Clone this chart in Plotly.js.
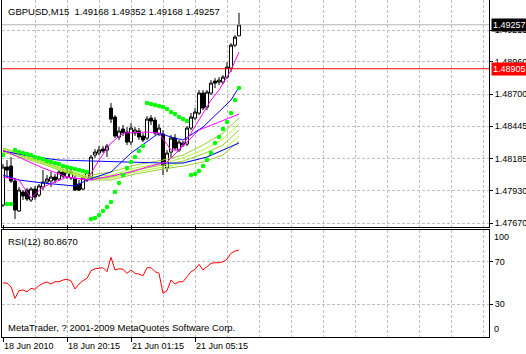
<!DOCTYPE html>
<html><head><meta charset="utf-8">
<script src="https://cdn.plot.ly/plotly-3.0.1.min.js"></script>
<style>html,body{margin:0;padding:0;background:#fff;}#chart{width:526px;height:354px;}</style>
</head><body><div id="chart"></div>
<script>
const symbol = 'GBPUSD';
const timeframe = 'M15';
const barIndex = [0,1,2,3,4,5,6,7,8,9,10,11,12,13,14,15,16,17,18,19,20,21,22,23,24,25,26,27,28,29,30,31,32,33,34,35,36,37,38,39,40,41,42,43,44,45,46,47,48,49,50,51,52,53,54,55,56,57,58,59];
const openP  = [1.47814,1.48118,1.48126,1.48006,1.47766,1.47918,1.47934,1.47854,1.47942,1.47894,1.47958,1.47998,1.48006,1.48038,1.48022,1.48078,1.48038,1.48030,1.48022,1.47982,1.47942,1.48014,1.48038,1.48214,1.48230,1.48262,1.48254,1.48590,1.48518,1.48358,1.48422,1.48398,1.48318,1.48390,1.48406,1.48366,1.48350,1.48510,1.48494,1.48382,1.48382,1.48110,1.48238,1.48350,1.48254,1.48310,1.48302,1.48430,1.48510,1.48550,1.48710,1.48598,1.48710,1.48806,1.48798,1.48798,1.48838,1.48910,1.49094,1.49168];
const highP  = [1.48142,1.48174,1.48198,1.48030,1.47958,1.47934,1.47950,1.47958,1.47966,1.47982,1.48094,1.48054,1.48078,1.48062,1.48094,1.48102,1.48118,1.48110,1.48046,1.48014,1.48046,1.48094,1.48214,1.48262,1.48286,1.48286,1.48302,1.48630,1.48534,1.48438,1.48454,1.48438,1.48470,1.48438,1.48430,1.48390,1.48526,1.48534,1.48518,1.48462,1.48414,1.48254,1.48374,1.48382,1.48334,1.48326,1.48446,1.48550,1.48590,1.48734,1.48734,1.48734,1.48814,1.48830,1.48838,1.48854,1.48958,1.49110,1.49174,1.49352];
const lowP   = [1.47798,1.48030,1.47990,1.47702,1.47758,1.47854,1.47846,1.47838,1.47854,1.47878,1.47934,1.47982,1.47958,1.47990,1.48006,1.48030,1.48022,1.48014,1.47926,1.47926,1.47934,1.47998,1.48014,1.48190,1.48214,1.48230,1.48198,1.48470,1.48350,1.48334,1.48366,1.48294,1.48294,1.48366,1.48334,1.48318,1.48334,1.48454,1.48374,1.48366,1.48054,1.48078,1.48190,1.48254,1.48238,1.48278,1.48286,1.48414,1.48494,1.48534,1.48574,1.48574,1.48694,1.48750,1.48774,1.48782,1.48822,1.48878,1.49078,1.49168];
const closeP = [1.48118,1.48094,1.48006,1.47774,1.47934,1.47886,1.47862,1.47942,1.47878,1.47966,1.47998,1.48022,1.48038,1.48014,1.48078,1.48046,1.48078,1.48078,1.47934,1.47934,1.48030,1.48078,1.48198,1.48238,1.48254,1.48246,1.48286,1.48502,1.48366,1.48406,1.48390,1.48318,1.48430,1.48414,1.48358,1.48334,1.48502,1.48486,1.48390,1.48430,1.48134,1.48230,1.48350,1.48270,1.48318,1.48294,1.48430,1.48518,1.48558,1.48710,1.48590,1.48718,1.48790,1.48790,1.48814,1.48838,1.48918,1.49094,1.49158,1.49257];

// Parabolic SAR (one dot per bar)
const sarP = [1.48214,1.47822,1.47822,1.48254,1.48238,1.48230,1.48222,1.48214,1.48198,1.48190,1.48182,1.48166,1.48158,1.48150,1.48142,1.48126,1.48118,1.48110,1.48102,1.48094,1.48086,1.48078,1.47702,1.47710,1.47734,1.47766,1.47798,1.47838,1.47918,1.47990,1.48054,1.48110,1.48158,1.48198,1.48246,1.48286,1.48630,1.48622,1.48614,1.48606,1.48598,1.48582,1.48558,1.48542,1.48518,1.48502,1.48486,1.48054,1.48062,1.48086,1.48126,1.48174,1.48230,1.48310,1.48358,1.48422,1.48478,1.48550,1.48654,1.48750];

// Moving averages (bar index, price)
const maFastIdx = [0,4,7,10,16,21,24,27,30,36,39,42,44,47,52,54,57,59];
const maFastVal = [1.48038,1.48014,1.47870,1.47958,1.48038,1.48014,1.48174,1.48310,1.48390,1.48398,1.48390,1.48254,1.48254,1.48390,1.48654,1.48734,1.48894,1.49038];
const maSlowIdx = [0,10,16,22,32,36,41,44,49,59];
const maSlowVal = [1.48254,1.48110,1.48038,1.48014,1.48078,1.48118,1.48158,1.48254,1.48414,1.48542];
const blueFastIdx = [0,4,10,18,21,27,32,39,42,45,50,57,59];
const blueFastVal = [1.48054,1.48014,1.47990,1.47966,1.48014,1.48078,1.48230,1.48390,1.48358,1.48334,1.48438,1.48654,1.48758];
const blueSlowIdx = [0,8,14,22,40,45,51,59];
const blueSlowVal = [1.48246,1.48198,1.48174,1.48166,1.48150,1.48150,1.48198,1.48310];
const ribbonIdx = [0,10,16,22,27,33,40,45,50,55,59];
const ribbon1 = [1.48270,1.48174,1.48110,1.48054,1.48078,1.48134,1.48174,1.48214,1.48294,1.48390,1.48510];
const ribbon2 = [1.48262,1.48166,1.48094,1.48038,1.48054,1.48110,1.48150,1.48190,1.48254,1.48342,1.48462];
const ribbon3 = [1.48254,1.48158,1.48086,1.48030,1.48038,1.48094,1.48134,1.48166,1.48222,1.48294,1.48414];
const ribbon4 = [1.48246,1.48150,1.48078,1.48022,1.48030,1.48078,1.48118,1.48150,1.48190,1.48254,1.48366];
const ribbon5 = [1.48238,1.48142,1.48070,1.48014,1.48014,1.48062,1.48102,1.48126,1.48158,1.48214,1.48326];

// RSI(12)
const rsiVal = [50,50,46.5,35.6,42.8,43.4,41.8,45,44,47.5,49.7,51,49,51.2,51.2,52.8,53.5,52,44.4,49,52.2,54.4,61.5,63.4,63.8,64.4,60.6,74.1,62.2,63.4,62.8,59.1,62.2,59.1,58.4,56.8,64.4,64.4,60.6,59.1,40.3,42.8,52.8,49,51.2,51.2,55.9,60.6,62.8,67.5,62.2,65.3,68.5,69,69,70,72.2,77.9,80,80.867];
const rsiLast = 80.8670;

const priceTicks = [1.49215,1.48960,1.48700,1.48445,1.48185,1.47930,1.47670];
const rsiTicks = [70,30];
const timeTickIdx = [0,16,32,48];
const timeTickText = ['18 Jun 2010','18 Jun 20:15','21 Jun 01:15','21 Jun 05:15'];
const hLineLevel = 1.48905;
const bidLevel = 1.49257;
const copyrightText = 'MetaTrader, ? 2001-2009 MetaQuotes Software Corp.';

const FONT = '"Liberation Sans", Arial, sans-serif';
const FS = 9.5;   // chart texts
const FA = 9;     // axis labels
const grid = {showgrid:true, gridcolor:'#C0C0C0', griddash:'3px,2px', gridwidth:1};
const last = barIndex.length - 1;

const line = (x, y, color) => ({type:'scatter', mode:'lines', x:x, y:y, xaxis:'x', yaxis:'y',
  line:{color:color, width:1}, hoverinfo:'skip'});

const traces = [
  line(ribbonIdx, ribbon5, '#9ACD32'),
  line(ribbonIdx, ribbon4, '#ADFF2F'),
  line(ribbonIdx, ribbon3, '#9ACD32'),
  line(ribbonIdx, ribbon2, '#ADFF2F'),
  line(ribbonIdx, ribbon1, '#9ACD32'),
  line(blueSlowIdx, blueSlowVal, '#0000FF'),
  line(blueFastIdx, blueFastVal, '#0000FF'),
  line(maSlowIdx, maSlowVal, '#FF00FF'),
  line(maFastIdx, maFastVal, '#FF00FF'),
  {type:'candlestick', x:barIndex, open:openP, high:highP, low:lowP, close:closeP,
   xaxis:'x', yaxis:'y', whiskerwidth:0, hoverinfo:'skip',
   increasing:{line:{color:'#000000', width:1}, fillcolor:'#FFFFFF'},
   decreasing:{line:{color:'#000000', width:1}, fillcolor:'#000000'}},
  {type:'scatter', mode:'markers', x:barIndex, y:sarP, xaxis:'x', yaxis:'y',
   marker:{color:'#00FF00', size:4.5, symbol:'circle', line:{width:0}}, hoverinfo:'skip'},
  {type:'scatter', mode:'lines', x:barIndex, y:rsiVal, xaxis:'x', yaxis:'y2',
   line:{color:'#FF0000', width:1}, hoverinfo:'skip'}
];

const f5 = v => v.toFixed(5);
const titleText = symbol + ',' + timeframe + '  ' + f5(openP[last]) + ' ' + f5(highP[last]) + ' ' + f5(lowP[last]) + ' ' + f5(closeP[last]);

const layout = {
  width:526, height:354,
  margin:{l:2, r:37, t:0, b:17, pad:0},
  paper_bgcolor:'#FFFFFF', plot_bgcolor:'#FFFFFF',
  showlegend:false,
  boxgap:0.1, boxgroupgap:0.15,
  font:{family:FONT, size:FA, color:'#000000'},
  xaxis:Object.assign({
    range:[-0.25, 121.5], anchor:'y2', tickmode:'array', tickvals:timeTickIdx, ticktext:timeTickText,
    ticks:'outside', ticklen:4, tickcolor:'#000000', ticklabelposition:'outside right',
    tickfont:{size:FA},
    showline:true, mirror:'all', linecolor:'#000000', linewidth:1, zeroline:false,
    rangeslider:{visible:false}, fixedrange:true,
    minor:{tick0:0, dtick:8, showgrid:true, gridcolor:'#C0C0C0', griddash:'3px,2px', gridwidth:1, ticks:''}
  }, grid),
  yaxis:Object.assign({
    domain:[0.32493, 1], range:[1.47634, 1.494553], side:'right',
    tickmode:'array', tickvals:priceTicks, ticktext:priceTicks.map(f5), tickfont:{size:FA},
    ticks:'outside', ticklen:3, tickcolor:'#000000',
    showline:true, mirror:true, linecolor:'#000000', linewidth:1, zeroline:false, fixedrange:true
  }, grid),
  yaxis2:Object.assign({
    domain:[0, 0.31899], range:[-0.66, 100.19], side:'right', anchor:'x',
    tickmode:'array', tickvals:rsiTicks, ticktext:rsiTicks.map(String), tickfont:{size:FA},
    ticks:'outside', ticklen:3, tickcolor:'#000000',
    showline:true, mirror:true, linecolor:'#000000', linewidth:1, zeroline:false, fixedrange:true
  }, grid),
  shapes:[
    {type:'line', xref:'paper', x0:0, x1:1, yref:'y', y0:bidLevel, y1:bidLevel, line:{color:'#B4B4B4', width:1}},
    {type:'line', xref:'paper', x0:0, x1:1, yref:'y', y0:hLineLevel, y1:hLineLevel, line:{color:'#FF0000', width:1}}
  ],
  annotations:[
    {xref:'paper', yref:'paper', x:0, y:1, xanchor:'left', yanchor:'top', xshift:4, yshift:-4,
     text:titleText, showarrow:false, font:{size:FS}},
    {xref:'paper', yref:'y', x:1, y:bidLevel, xanchor:'left', yanchor:'middle', xshift:2,
     text:f5(bidLevel), showarrow:false, bgcolor:'#000000', borderpad:1, font:{size:FA, color:'#FFFFFF'}},
    {xref:'paper', yref:'y', x:1, y:hLineLevel, xanchor:'left', yanchor:'middle', xshift:2,
     text:f5(hLineLevel), showarrow:false, bgcolor:'#FF0000', borderpad:1, font:{size:FA, color:'#FFFFFF'}},
    {xref:'paper', yref:'y2 domain', x:0, y:1, xanchor:'left', yanchor:'top', xshift:4, yshift:-4,
     text:'RSI(12) ' + rsiLast.toFixed(4), showarrow:false, font:{size:FS}},
    {xref:'paper', yref:'y2 domain', x:0, y:0, xanchor:'left', yanchor:'bottom', xshift:4, yshift:2,
     text:copyrightText, showarrow:false, font:{size:FS}},
    {xref:'paper', yref:'y2', x:1, y:100, xanchor:'left', yanchor:'top', xshift:3, yshift:0,
     text:'100', showarrow:false, font:{size:FA}},
    {xref:'paper', yref:'y2', x:1, y:0, xanchor:'left', yanchor:'bottom', xshift:3, yshift:0,
     text:'0', showarrow:false, font:{size:FA}}
  ]
};

Plotly.newPlot('chart', traces, layout, {staticPlot:true, displayModeBar:false});
</script>
</body></html>
